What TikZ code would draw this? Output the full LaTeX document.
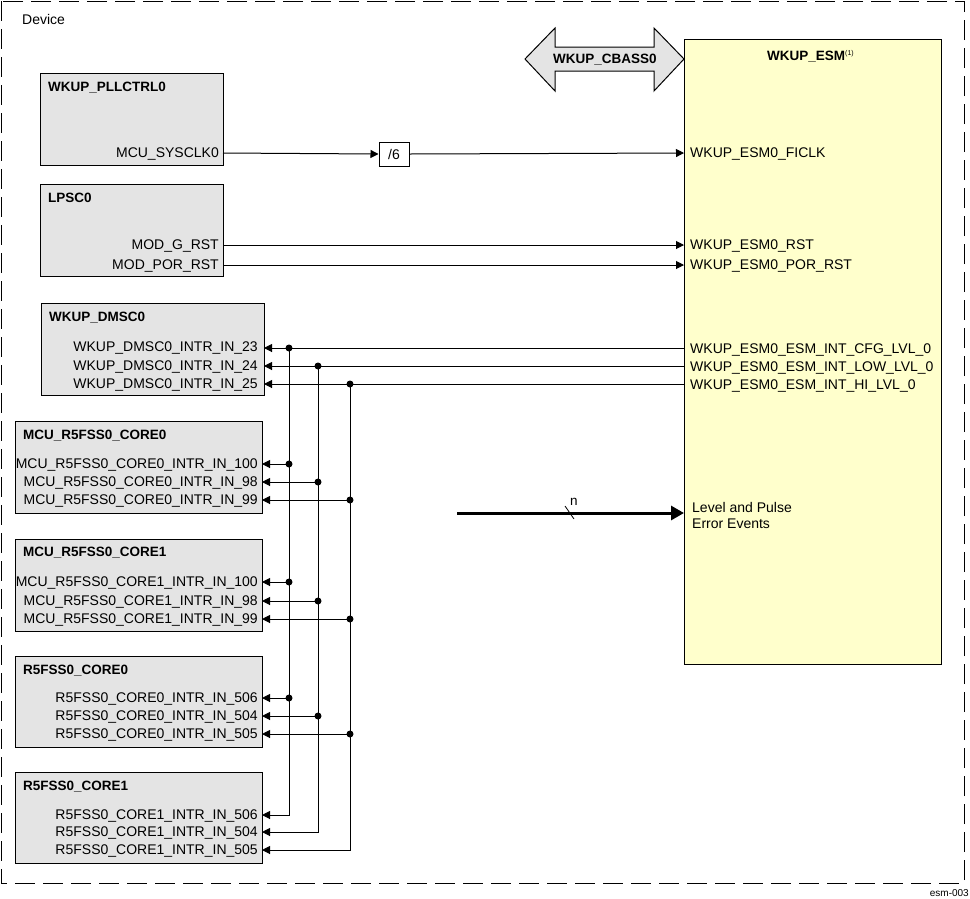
\documentclass[tikz,border=0pt]{standalone}
\usepackage{fontspec}
\setmainfont{Liberation Sans}
\usetikzlibrary{arrows.meta}
\definecolor{boxgray}{RGB}{228,228,228}
\definecolor{esmyellow}{RGB}{255,255,204}
\tikzset{
  gbox/.style={draw=black, line width=1pt, fill=boxgray, inner sep=0pt, anchor=north west},
  ttl/.style={font=\fontsize{13.5}{15}\selectfont\bfseries, inner sep=0pt, anchor=west},
  port/.style={font=\fontsize{14}{16}\selectfont, inner sep=0pt, anchor=east, yshift=-1pt},
  eport/.style={font=\fontsize{14}{16}\selectfont, inner sep=0pt, anchor=west, yshift=-1pt},
  sig/.style={line width=1pt, -{Triangle[length=8pt,width=8pt]}},
  wire/.style={line width=1pt},
  jdot/.style={circle, fill=black, inner sep=0pt, minimum size=7pt},
}
\begin{document}
\begin{tikzpicture}[x=1pt,y=-1pt]
\useasboundingbox (0,0) rectangle (970,898);
% device border
\draw[line width=1pt, dash pattern=on 20pt off 8pt] (1,1) rectangle (964,883);
\node[eport] (device) at (22,18) {Device};
\node[font=\fontsize{10}{12}\selectfont, inner sep=0pt, anchor=east] (fig) at (969,893) {esm-003};

% ESM box
\node[draw=black, line width=1pt, fill=esmyellow, minimum width=257pt, minimum height=625pt, inner sep=0pt, anchor=north west] (esm) at (684,39) {};
\node[ttl] (esmt) at (767,56) {WKUP\_ESM\textsuperscript{\normalfont\fontsize{7}{8}\selectfont(1)}};
\node[eport] (eclk) at (690,153) {WKUP\_ESM0\_FICLK};
\node[eport] (erst) at (690,245) {WKUP\_ESM0\_RST};
\node[eport] (eporrst) at (690,265) {WKUP\_ESM0\_POR\_RST};
\node[eport] (ecfg) at (690,349) {WKUP\_ESM0\_ESM\_INT\_CFG\_LVL\_0};
\node[eport] (elow) at (690,367) {WKUP\_ESM0\_ESM\_INT\_LOW\_LVL\_0};
\node[eport] (ehi) at (690,385) {WKUP\_ESM0\_ESM\_INT\_HI\_LVL\_0};
\node[eport, align=left, font=\fontsize{14}{16}\selectfont] (elev) at (692,514) {Level and Pulse\\Error Events};
\coordinate (eclkin) at (684,153);
\coordinate (erstin) at (684,245);
\coordinate (eporin) at (684,265);
\coordinate (ecfgo) at (684,348);
\coordinate (elowo) at (684,366);
\coordinate (ehio) at (684,384);
\coordinate (elevin) at (684,513);
\coordinate (evsrc) at (457,513);

% CBASS double arrow
\draw[line width=1pt, fill=boxgray] (525,59) -- (555,28) -- (555,47) -- (654,47) -- (654,28) -- (684,59) -- (654,91) -- (654,71) -- (555,71) -- (555,91) -- cycle;
\node[ttl, anchor=center] (cbass) at (605,60) {WKUP\_CBASS0};

% WKUP_PLLCTRL0
\node[gbox, minimum width=183pt, minimum height=92pt] (pll) at (40,73) {};
\node[ttl] (pllt) at (48,88) {WKUP\_PLLCTRL0};
\node[port] (pllclk) at (219,153) {MCU\_SYSCLK0};
\coordinate (pllo) at (223,153);

% divider
\node[draw=black, line width=1pt, fill=white, minimum width=30pt, minimum height=24pt, inner sep=0pt, font=\fontsize{14}{16}\selectfont] (div) at (394,154) {/6};

% LPSC0
\node[gbox, minimum width=183pt, minimum height=92pt] (lpsc) at (40,184) {};
\node[ttl] (lpsct) at (48,198) {LPSC0};
\node[port] (lg) at (219,245) {MOD\_G\_RST};
\node[port] (lpor) at (219,265) {MOD\_POR\_RST};
\coordinate (lgo) at (223,245);
\coordinate (lporo) at (223,265);

% WKUP_DMSC0
\node[gbox, minimum width=223pt, minimum height=92pt] (dmsc) at (41,303) {};
\node[ttl] (dmsct) at (49,318) {WKUP\_DMSC0};
\node[port] (d23) at (258,347) {WKUP\_DMSC0\_INTR\_IN\_23};
\node[port] (d24) at (258,366) {WKUP\_DMSC0\_INTR\_IN\_24};
\node[port] (d25) at (258,384) {WKUP\_DMSC0\_INTR\_IN\_25};
\coordinate (d23i) at (264,348);
\coordinate (d24i) at (264,366);
\coordinate (d25i) at (264,384);

% MCU_R5FSS0_CORE0
\node[gbox, minimum width=247pt, minimum height=92pt] (mc0) at (15,421) {};
\node[ttl] (mc0t) at (23,436) {MCU\_R5FSS0\_CORE0};
\node[port] (mc0a) at (258,464) {MCU\_R5FSS0\_CORE0\_INTR\_IN\_100};
\node[port] (mc0b) at (258,482) {MCU\_R5FSS0\_CORE0\_INTR\_IN\_98};
\node[port] (mc0c) at (258,500) {MCU\_R5FSS0\_CORE0\_INTR\_IN\_99};
\coordinate (mc0ai) at (262,464);
\coordinate (mc0bi) at (262,482);
\coordinate (mc0ci) at (262,500);

% MCU_R5FSS0_CORE1
\node[gbox, minimum width=247pt, minimum height=92pt] (mc1) at (15,539) {};
\node[ttl] (mc1t) at (23,553) {MCU\_R5FSS0\_CORE1};
\node[port] (mc1a) at (258,582) {MCU\_R5FSS0\_CORE1\_INTR\_IN\_100};
\node[port] (mc1b) at (258,601) {MCU\_R5FSS0\_CORE1\_INTR\_IN\_98};
\node[port] (mc1c) at (258,619) {MCU\_R5FSS0\_CORE1\_INTR\_IN\_99};
\coordinate (mc1ai) at (262,582);
\coordinate (mc1bi) at (262,601);
\coordinate (mc1ci) at (262,619);

% R5FSS0_CORE0
\node[gbox, minimum width=247pt, minimum height=91pt] (rc0) at (15,656) {};
\node[ttl] (rc0t) at (23,671) {R5FSS0\_CORE0};
\node[port] (rc0a) at (258,698) {R5FSS0\_CORE0\_INTR\_IN\_506};
\node[port] (rc0b) at (258,716) {R5FSS0\_CORE0\_INTR\_IN\_504};
\node[port] (rc0c) at (258,734) {R5FSS0\_CORE0\_INTR\_IN\_505};
\coordinate (rc0ai) at (262,698);
\coordinate (rc0bi) at (262,716);
\coordinate (rc0ci) at (262,734);

% R5FSS0_CORE1
\node[gbox, minimum width=247pt, minimum height=91pt] (rc1) at (15,772) {};
\node[ttl] (rc1t) at (23,787) {R5FSS0\_CORE1};
\node[port] (rc1a) at (258,815) {R5FSS0\_CORE1\_INTR\_IN\_506};
\node[port] (rc1b) at (258,832) {R5FSS0\_CORE1\_INTR\_IN\_504};
\node[port] (rc1c) at (258,850) {R5FSS0\_CORE1\_INTR\_IN\_505};
\coordinate (rc1ai) at (262,815);
\coordinate (rc1bi) at (262,832);
\coordinate (rc1ci) at (262,850);

% clock / reset connectors
\draw[sig] (pllo) -- (div.west);
\draw[sig] (div.east) -- (eclkin);
\draw[sig] (lgo) -- (erstin);
\draw[sig] (lporo) -- (eporin);

% junctions
\node[jdot] (ja0) at (289,348) {};
\node[jdot] (ja1) at (289,464) {};
\node[jdot] (ja2) at (289,582) {};
\node[jdot] (ja3) at (289,698) {};
\node[jdot] (jb0) at (318,366) {};
\node[jdot] (jb1) at (318,482) {};
\node[jdot] (jb2) at (318,601) {};
\node[jdot] (jb3) at (318,716) {};
\node[jdot] (jc0) at (350,384) {};
\node[jdot] (jc1) at (350,500) {};
\node[jdot] (jc2) at (350,619) {};
\node[jdot] (jc3) at (350,734) {};

% interrupt buses
\draw[sig] (ecfgo) -- (d23i);
\draw[sig] (elowo) -- (d24i);
\draw[sig] (ehio) -- (d25i);
\draw[sig] (ja0.center) |- (rc1ai);
\draw[sig] (jb0.center) |- (rc1bi);
\draw[sig] (jc0.center) |- (rc1ci);
\draw[sig] (ja1.center) -- (mc0ai);
\draw[sig] (jb1.center) -- (mc0bi);
\draw[sig] (jc1.center) -- (mc0ci);
\draw[sig] (ja2.center) -- (mc1ai);
\draw[sig] (jb2.center) -- (mc1bi);
\draw[sig] (jc2.center) -- (mc1ci);
\draw[sig] (ja3.center) -- (rc0ai);
\draw[sig] (jb3.center) -- (rc0bi);
\draw[sig] (jc3.center) -- (rc0ci);

% error events bus
\draw[line width=3pt, -{Triangle[length=13pt,width=14pt]}] (evsrc) -- (elevin);
\coordinate (sl1) at (565,506);
\coordinate (sl2) at (574,519);
\draw[line width=0.8pt] (sl1) -- (sl2);
\node[font=\fontsize{13.5}{15}\selectfont, inner sep=0pt, anchor=west] (nlab) at (570,502) {n};
\end{tikzpicture}
\end{document}
